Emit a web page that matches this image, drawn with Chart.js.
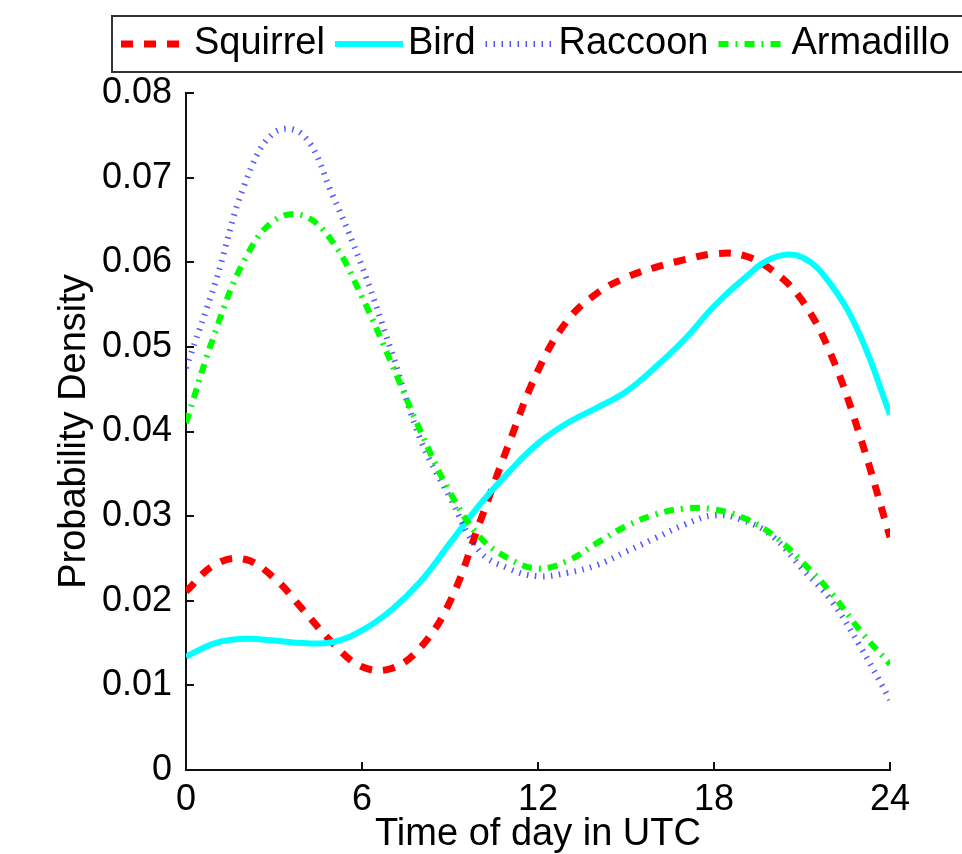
<!DOCTYPE html>
<html>
<head>
<meta charset="utf-8">
<title>Probability Density by Time of Day</title>
<script src="https://cdn.jsdelivr.net/npm/chart.js@4.4.1/dist/chart.umd.min.js"></script>
<style>
  html, body { margin: 0; padding: 0; background: #fff; }
  #chart { display: block; }
</style>
</head>
<body>
<canvas id="chart" width="962" height="854"></canvas>
<script>
// Data (hourly samples, UTC)
const hours = [0,1,2,3,4,5,6,7,8,9,10,11,12,13,14,15,16,17,18,19,20,21,22,23,24];
const squirrel = [0.0211,0.0243,0.0249,0.0227,0.0189,0.0150,0.0122,0.0120,0.0145,0.0199,0.0291,0.0385,0.0472,0.0531,0.0563,0.0582,0.0594,0.0603,0.0610,0.0608,0.0590,0.0555,0.0490,0.0392,0.0275];
const bird     = [0.0134,0.0150,0.0155,0.0153,0.0150,0.0151,0.0165,0.0189,0.0223,0.0268,0.0313,0.0352,0.0386,0.0410,0.0428,0.0447,0.0476,0.0509,0.0548,0.0580,0.0605,0.0606,0.0573,0.0512,0.0420];
const raccoon  = [0.0475,0.0576,0.0692,0.0753,0.0750,0.0679,0.0595,0.0495,0.0390,0.0322,0.0259,0.0238,0.0229,0.0233,0.0242,0.0258,0.0274,0.0290,0.0301,0.0295,0.0276,0.0238,0.0200,0.0145,0.0083];
const armadillo= [0.0410,0.0518,0.0603,0.0649,0.0655,0.0624,0.0559,0.0481,0.0400,0.0328,0.0276,0.0250,0.0238,0.0247,0.0268,0.0288,0.0302,0.0309,0.0308,0.0298,0.0278,0.0246,0.0209,0.0164,0.0125];
const seriesNames = ['Squirrel','Bird','Raccoon','Armadillo'];
const xTicks = [0,6,12,18,24];
const yMax = 0.08, yStep = 0.01;

const FONT = "'Liberation Sans', Arial, sans-serif";
const pts = arr => hours.map((h,i)=>({x:h, y:arr[i]}));

// draws the ticks inside the axes like the original
const innerTicks = {
  id:'innerTicks',
  afterDatasetsDraw(chart){
    const {ctx, chartArea:a, scales:{x, y}} = chart;
    ctx.save();
    ctx.strokeStyle = '#111';
    ctx.lineWidth = 2;
    ctx.beginPath();
    x.ticks.forEach(t=>{ const px = Math.round(x.getPixelForValue(t.value)); ctx.moveTo(px, a.bottom); ctx.lineTo(px, a.bottom-8); });
    y.ticks.forEach(t=>{ const py = Math.round(y.getPixelForValue(t.value)); ctx.moveTo(a.left, py); ctx.lineTo(a.left+8, py); });
    ctx.stroke();
    ctx.restore();
  }
};

// boxed legend across the top, lines drawn with each dataset's dash
const boxLegend = {
  id:'boxLegend',
  afterDraw(chart){
    const ctx = chart.ctx;
    ctx.save();
    ctx.strokeStyle = '#333';
    ctx.lineWidth = 2;
    ctx.setLineDash([]);
    ctx.strokeRect(112, 16, 870, 56);
    ctx.font = '38px ' + FONT;
    ctx.textBaseline = 'middle';
    ctx.fillStyle = '#000';
    let x = 121;
    const cy = 44;
    chart.data.datasets.forEach(ds=>{
      ctx.save();
      ctx.strokeStyle = ds.borderColor;
      ctx.lineWidth = ds.borderWidth;
      ctx.setLineDash(ds.borderDash || []);
      ctx.beginPath(); ctx.moveTo(x, cy); ctx.lineTo(x+68, cy); ctx.stroke();
      ctx.restore();
      ctx.fillText(ds.label, x+73, cy);
      x += 73 + ctx.measureText(ds.label).width + 10;
    });
    ctx.restore();
  }
};

const common = {pointRadius:0, fill:false, tension:0.4, borderCapStyle:'butt'};

new Chart(document.getElementById('chart'), {
  type:'line',
  data:{
    datasets:[
      {...common, label:seriesNames[0], data:pts(squirrel),  borderColor:'#ff0000', borderWidth:7, borderDash:[12,11], order:4},
      {...common, label:seriesNames[1], data:pts(bird),      borderColor:'#00ffff', borderWidth:6, order:3},
      {...common, label:seriesNames[2], data:pts(raccoon),   borderColor:'rgba(30,30,255,0.75)', borderWidth:6, borderDash:[1.5,6.5], order:2},
      {...common, label:seriesNames[3], data:pts(armadillo), borderColor:'#00ff00', borderWidth:6, borderDash:[10,7,2,7], order:1}
    ]
  },
  options:{
    responsive:false,
    devicePixelRatio:1,
    animation:false,
    layout:{padding:{left:0, top:93, right:72, bottom:0}},
    plugins:{legend:{display:false}, tooltip:{enabled:false}},
    scales:{
      x:{
        type:'linear', min:0, max:24,
        afterBuildTicks:s=>{ s.ticks = xTicks.map(v=>({value:v})); },
        afterFit:s=>{ s.height = 84; },
        grid:{display:false, drawTicks:false},
        border:{display:true, color:'#111', width:2},
        ticks:{padding:8, color:'#000', font:{family:FONT, size:36}, maxRotation:0},
        title:{display:true, text:'Time of day in UTC', color:'#000', font:{family:FONT, size:38, lineHeight:1}, padding:{top:0, bottom:0}}
      },
      y:{
        min:0, max:yMax,
        ticks:{stepSize:yStep, padding:14, color:'#000', font:{family:FONT, size:36},
               callback:v=> v===0 ? '0' : v.toFixed(2)},
        afterFit:s=>{ s.width = 186; },
        grid:{display:false, drawTicks:false},
        border:{display:true, color:'#111', width:2},
        title:{display:true, text:'Probability Density', color:'#000', font:{family:FONT, size:38, lineHeight:1}, padding:{top:56, bottom:0}}
      }
    }
  },
  plugins:[innerTicks, boxLegend]
});
</script>
</body>
</html>
